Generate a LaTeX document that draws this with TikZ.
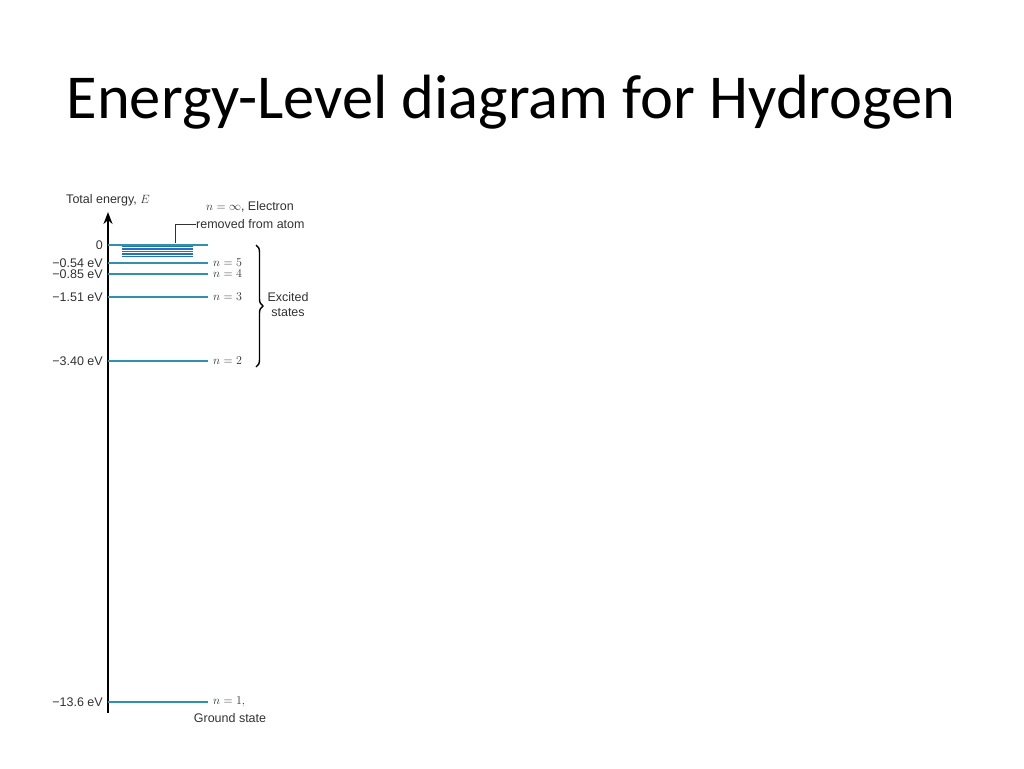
\documentclass[tikz,border=0pt]{standalone}
\usepackage{fontspec}
\setmainfont{Liberation Sans}
\newfontfamily\titlefont{Carlito}
\usetikzlibrary{decorations.pathreplacing,arrows.meta}
\definecolor{levelc}{RGB}{50,145,170}
\definecolor{bandc}{RGB}{35,115,185}
\definecolor{txtc}{RGB}{50,50,50}
\tikzset{
  level/.style={draw=levelc,line width=1.4pt},
  bandline/.style={draw=bandc,line width=1.3pt},
  lab/.style={text=txtc,font=\fontsize{12.5}{13}\selectfont,inner sep=0pt},
  leftlab/.style={lab,anchor=east},
  rightlab/.style={lab,anchor=west},
}
\begin{document}
\begin{tikzpicture}[x=1pt,y=-1pt]
\useasboundingbox (0,0) rectangle (1024,768);
\node[anchor=base,font=\titlefont\fontsize{62.5}{64}\selectfont,inner sep=0pt] (title) at (511,118) {Energy-Level diagram for Hydrogen};
% axis
\coordinate (axb) at (108,713);
\coordinate (axt) at (108,212);
\draw[line width=2.8pt,-{Stealth[length=12pt,width=9pt]}] (axb) -- (axt);
\node[lab,anchor=south] (axlab) at (108,206) {Total energy, $E$};
% levels
\foreach \nm/\y in {L0/245,L5/263,L4/274,L3/297,L2/361,L1/702}{
  \coordinate (\nm a) at (108,\y);
  \coordinate (\nm b) at (208,\y);
  \draw[level] (\nm a) -- (\nm b);
}
% band of high levels
\foreach \i/\y in {1/246.5,2/249,3/251.5,4/254,5/256.5}{
  \coordinate (B\i a) at (122,\y);
  \coordinate (B\i b) at (193,\y);
  \draw[bandline] (B\i a) -- (B\i b);
}
% left labels
\node[leftlab] (t0) at (103,245) {0};
\node[leftlab] (t5) at (103,263) {−0.54 eV};
\node[leftlab] (t4) at (103,274) {−0.85 eV};
\node[leftlab] (t3) at (103,297) {−1.51 eV};
\node[leftlab] (t2) at (103,361) {−3.40 eV};
\node[leftlab] (t1) at (103,702) {−13.6 eV};
% right labels
\node[rightlab] (n5) at (213,263) {$n = 5$};
\node[rightlab] (n4) at (213,274) {$n = 4$};
\node[rightlab] (n3) at (213,297) {$n = 3$};
\node[rightlab] (n2) at (213,361) {$n = 2$};
\node[rightlab] (n1) at (213,702) {$n = 1,$};
\node[lab] (gs) at (230,718) {Ground state};
% infinity label
\node[lab] (ninf) at (250,207) {$n = \infty$, Electron};
\node[lab,anchor=west] (rem) at (196,224) {removed from atom};
\coordinate (ldr) at (175,243);
\draw[txtc,line width=0.9pt] (ldr) |- (rem.west);
% brace
\coordinate (brt) at (256,245);
\coordinate (brb) at (256,367);
\draw[line width=1.4pt,decorate,decoration={brace,amplitude=7pt}] (brt) -- (brb);
\node[lab,align=center] (exc) at (288,305) {Excited\\[2pt]states};
\end{tikzpicture}
\end{document}
